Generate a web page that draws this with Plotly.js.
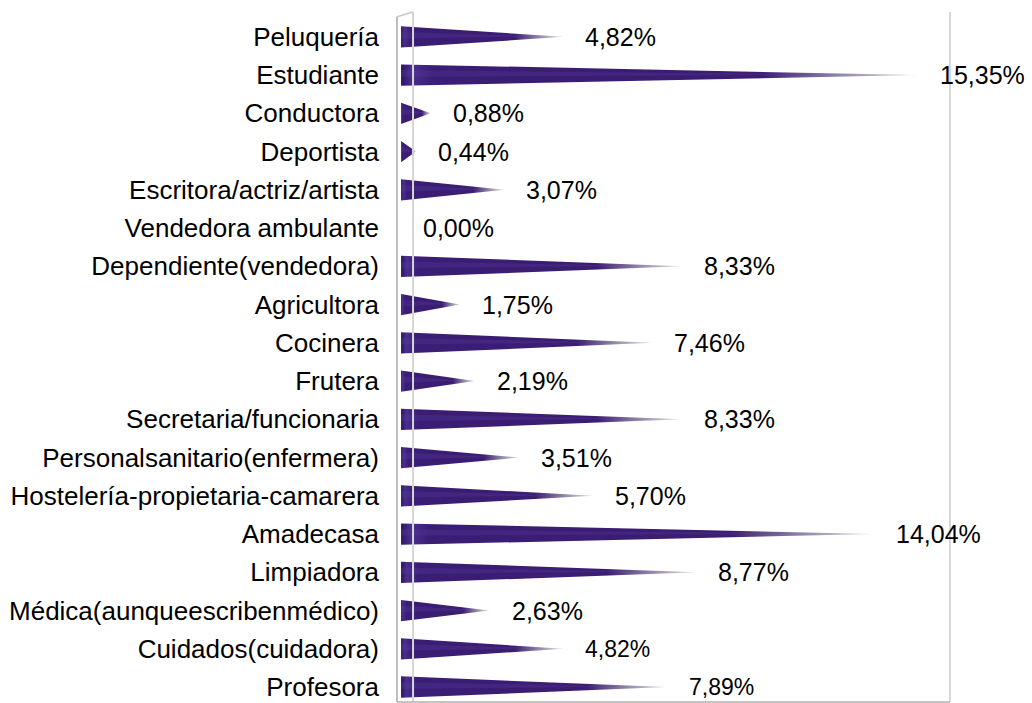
<!DOCTYPE html>
<html>
<head>
<meta charset="utf-8">
<script src="https://cdn.plot.ly/plotly-3.0.1.min.js"></script>
<style>html,body{margin:0;padding:0;background:#fff;}#chart{width:1032px;height:703px;}</style>
</head>
<body>
<div id="chart"></div>
<script>
const categories = [
  "Peluquería", "Estudiante", "Conductora", "Deportista", "Escritora/actriz/artista",
  "Vendedora ambulante", "Dependiente(vendedora)", "Agricultora", "Cocinera", "Frutera",
  "Secretaria/funcionaria", "Personalsanitario(enfermera)", "Hostelería-propietaria-camarera",
  "Amadecasa", "Limpiadora", "Médica(aunqueescribenmédico)", "Cuidados(cuidadora)", "Profesora"
];
const values = [4.82, 15.35, 0.88, 0.44, 3.07, 0.00, 8.33, 1.75, 7.46, 2.19, 8.33, 3.51, 5.70, 14.04, 8.77, 2.63, 4.82, 7.89];
const valueLabels = ["4,82%", "15,35%", "0,88%", "0,44%", "3,07%", "0,00%", "8,33%", "1,75%", "7,46%", "2,19%", "8,33%", "3,51%", "5,70%", "14,04%", "8,77%", "2,63%", "4,82%", "7,89%"];

const H = 0.28; // half thickness of cone base (in category units)
const traces = [];
categories.forEach((c, i) => {
  const v = values[i];
  if (v <= 0) return;
  traces.push({
    type: 'scatter', mode: 'lines', fill: 'toself',
    x: [0, v, 0, 0], y: [i - H, i, i + H, i - H],
    line: {width: 0, color: 'rgba(0,0,0,0)'},
    fillcolor: '#3b1e74',
    fillgradient: {type: 'horizontal', colorscale: [[0, '#2c1560'], [0.02, '#4a2f8e'], [0.06, '#3a1d74'], [0.7, '#3b1e72'], [1, 'rgba(90,80,110,0.2)']]},
    hoverinfo: 'skip', showlegend: false
  });
  traces.push({
    type: 'scatter', mode: 'lines', fill: 'toself',
    x: [0, v * 0.85, 0, 0], y: [i - H * 0.45, i - H * 0.05, i + H * 0.15, i - H * 0.45],
    line: {width: 0, color: 'rgba(0,0,0,0)'},
    fillcolor: 'rgba(90,60,160,0.3)',
    hoverinfo: 'skip', showlegend: false
  });
});

const annotations = categories.map((c, i) => ({
  x: values[i], y: i, xref: 'x', yref: 'y',
  text: valueLabels[i], showarrow: false, xanchor: 'left', yanchor: 'middle',
  xshift: 20, font: {family: 'Liberation Sans, Arial, sans-serif', size: i >= 16 ? 23 : 25, color: '#000'}
}));

const layout = {
  width: 1032, height: 703,
  margin: {l: 397, r: 82, t: 12, b: 1},
  paper_bgcolor: '#fff', plot_bgcolor: '#fff',
  showlegend: false,
  xaxis: {range: [-0.12, 16.3], showgrid: false, zeroline: false, showticklabels: false, showline: false, fixedrange: true},
  yaxis: {
    range: [17.39, -0.65], tickmode: 'array',
    tickvals: categories.map((c, i) => i), ticktext: categories,
    showgrid: false, zeroline: false, showline: false, ticks: '',
    ticklabelstandoff: 17,
    tickfont: {family: 'Liberation Sans, Arial, sans-serif', size: 26, color: '#000'}
  },
  annotations: annotations,
  shapes: [
    {type: 'line', xref: 'paper', yref: 'paper', x0: 0, x1: 0, y0: 0, y1: 0.993, line: {color: '#a8a8a8', width: 1.5}},
    {type: 'line', xref: 'paper', yref: 'paper', x0: 0, x1: 0.029, y0: 0.993, y1: 1, line: {color: '#c8c8c8', width: 1.5}},
    {type: 'line', xref: 'paper', yref: 'paper', x0: 0.029, x1: 0.029, y0: 0, y1: 1, line: {color: '#d6d6d6', width: 2}},
    {type: 'line', xref: 'paper', yref: 'paper', x0: 1, x1: 1, y0: 0, y1: 1, line: {color: '#d8d8d8', width: 2}},
    {type: 'line', xref: 'paper', yref: 'paper', x0: 0, x1: 1, y0: 0, y1: 0, line: {color: '#b0b0b0', width: 1.5}}
  ]
};

Plotly.newPlot('chart', traces, layout, {displayModeBar: false, staticPlot: true});
</script>
</body>
</html>
